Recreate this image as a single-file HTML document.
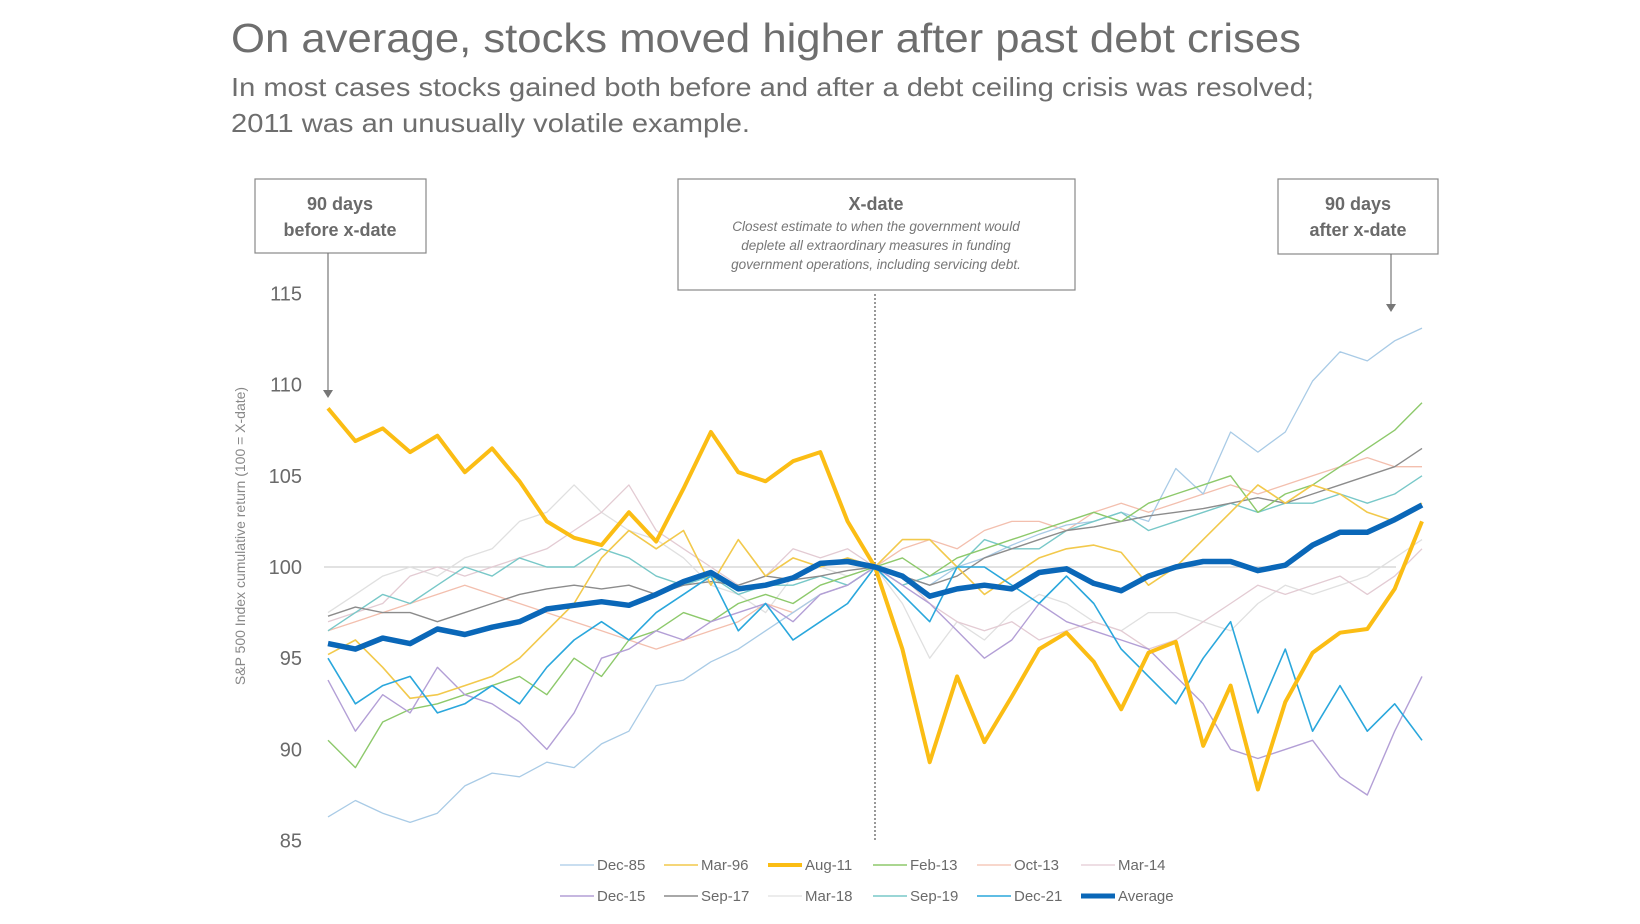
<!DOCTYPE html>
<html><head><meta charset="utf-8"><style>
html,body{margin:0;padding:0;background:#fff;width:1640px;height:924px;overflow:hidden;font-family:"Liberation Sans",sans-serif}
</style></head><body>
<svg id="chart" width="1640" height="924" xmlns="http://www.w3.org/2000/svg" font-family="Liberation Sans, sans-serif">
<text x="231" y="52" font-size="41" fill="#6e6e6e" textLength="1070" lengthAdjust="spacingAndGlyphs">On average, stocks moved higher after past debt crises</text>
<text x="231" y="96" font-size="26" fill="#6e6e6e" textLength="1083" lengthAdjust="spacingAndGlyphs">In most cases stocks gained both before and after a debt ceiling crisis was resolved;</text>
<text x="231" y="132" font-size="26" fill="#6e6e6e" textLength="519" lengthAdjust="spacingAndGlyphs">2011 was an unusually volatile example.</text>
<g>
<rect x="255" y="179" width="171" height="74" fill="#fff" stroke="#888" stroke-width="1.2"/>
<text x="340" y="210" font-size="18" font-weight="bold" fill="#6a6a6a" text-anchor="middle">90 days</text>
<text x="340" y="236" font-size="18" font-weight="bold" fill="#6a6a6a" text-anchor="middle">before x-date</text>
<line x1="328" y1="253" x2="328" y2="392" stroke="#777" stroke-width="1.2"/>
<path d="M323,390 L333,390 L328,398 Z" fill="#777"/>
</g>
<g>
<rect x="678" y="179" width="397" height="111" fill="#fff" stroke="#888" stroke-width="1.2"/>
<text x="876" y="210" font-size="18" font-weight="bold" fill="#6a6a6a" text-anchor="middle">X-date</text>
<text x="876" y="231" font-size="13.5" font-style="italic" fill="#777" text-anchor="middle">Closest estimate to when the government would</text>
<text x="876" y="250" font-size="13.5" font-style="italic" fill="#777" text-anchor="middle">deplete all extraordinary measures in funding</text>
<text x="876" y="269" font-size="13.5" font-style="italic" fill="#777" text-anchor="middle">government operations, including servicing debt.</text>
</g>
<g>
<rect x="1278" y="179" width="160" height="75" fill="#fff" stroke="#888" stroke-width="1.2"/>
<text x="1358" y="210" font-size="18" font-weight="bold" fill="#6a6a6a" text-anchor="middle">90 days</text>
<text x="1358" y="236" font-size="18" font-weight="bold" fill="#6a6a6a" text-anchor="middle">after x-date</text>
<line x1="1391" y1="254" x2="1391" y2="306" stroke="#777" stroke-width="1.2"/>
<path d="M1386,304 L1396,304 L1391,312 Z" fill="#777"/>
</g>
<text transform="translate(245,536) rotate(-90)" font-size="14" fill="#888" text-anchor="middle">S&amp;P 500 Index cumulative return (100 = X-date)</text>
<g id="plot"></g>
<g id="legend"></g>
</svg>
<script>
const NS="http://www.w3.org/2000/svg";
const yTicks=[85,90,95,100,105,110,115];
const seriesNames=["Dec-85","Mar-96","Aug-11","Feb-13","Oct-13","Mar-14","Dec-15","Sep-17","Mar-18","Sep-19","Dec-21","Average"];
const dec85=[86.3,87.2,86.5,86.0,86.5,88.0,88.7,88.5,89.3,89.0,90.3,91.0,93.5,93.8,94.8,95.5,96.5,97.5,98.5,99.0,100,99.5,99.0,100.0,100.5,101.2,101.8,102.3,102.5,103.0,102.5,105.4,104.0,107.4,106.3,107.4,110.2,111.8,111.3,112.4,113.1];
const mar96=[95.2,96.0,94.5,92.8,93.0,93.5,94.0,95.0,96.5,98.0,100.5,102.0,101.0,102.0,99.0,101.5,99.5,100.5,100.0,100.5,100,101.5,101.5,100.0,98.5,99.5,100.5,101.0,101.2,100.8,99.0,100.0,101.5,103.0,104.5,103.5,104.5,104.0,103.0,102.5,103.5];
const aug11=[108.7,106.9,107.6,106.3,107.2,105.2,106.5,104.7,102.5,101.6,101.2,103.0,101.4,104.3,107.4,105.2,104.7,105.8,106.3,102.5,100,95.5,89.3,94.0,90.4,92.9,95.5,96.4,94.8,92.2,95.3,95.9,90.2,93.5,87.8,92.6,95.3,96.4,96.6,98.8,102.5];
const feb13=[90.5,89.0,91.5,92.2,92.5,93.0,93.5,94.0,93.0,95.0,94.0,96.0,96.5,97.5,97.0,98.0,98.5,98.0,99.0,99.5,100,100.5,99.5,100.5,101.0,101.5,102.0,102.5,103.0,102.5,103.5,104.0,104.5,105.0,103.0,104.0,104.5,105.5,106.5,107.5,109.0];
const oct13=[96.5,97.0,97.5,98.0,98.5,99.0,98.5,98.0,97.5,97.0,96.5,96.0,95.5,96.0,96.5,97.0,98.0,97.5,98.5,99.0,100,101.0,101.5,101.0,102.0,102.5,102.5,102.0,103.0,103.5,103.0,103.5,104.0,104.5,104.0,104.5,105.0,105.5,106.0,105.5,105.5];
const mar14=[97.0,97.5,98.0,99.5,100.0,99.5,100.0,100.5,101.0,102.0,103.0,104.5,102.0,101.0,100.0,99.0,99.5,101.0,100.5,101.0,100,99.5,98.0,97.0,96.5,97.0,96.0,96.5,97.0,96.5,95.5,96.0,97.0,98.0,99.0,98.5,99.0,99.5,98.5,99.5,101.0];
const dec15=[93.8,91.0,93.0,92.0,94.5,93.0,92.5,91.5,90.0,92.0,95.0,95.5,96.5,96.0,97.0,97.5,98.0,97.0,98.5,99.0,100,99.0,98.0,96.5,95.0,96.0,98.0,97.0,96.5,96.0,95.5,94.0,92.5,90.0,89.5,90.0,90.5,88.5,87.5,91.0,94.0];
const sep17=[97.3,97.8,97.5,97.5,97.0,97.5,98.0,98.5,98.8,99.0,98.8,99.0,98.5,99.0,99.2,99.0,99.5,99.3,99.5,99.8,100,99.5,99.0,99.5,100.5,101.0,101.5,102.0,102.2,102.5,102.8,103.0,103.2,103.5,103.8,103.5,104.0,104.5,105.0,105.5,106.5];
const mar18=[97.5,98.5,99.5,100.0,99.5,100.5,101.0,102.5,103.0,104.5,103.0,102.0,101.5,100.5,99.0,98.5,97.5,99.5,100.0,99.5,100,98.0,95.0,97.0,96.0,97.5,98.5,98.0,97.0,96.5,97.5,97.5,97.0,96.5,98.0,99.0,98.5,99.0,99.5,100.5,101.5];
const sep19=[96.5,97.5,98.5,98.0,99.0,100.0,99.5,100.5,100.0,100.0,101.0,100.5,99.5,99.0,99.5,98.5,99.0,99.0,99.5,99.0,100,99.0,99.5,100.0,101.5,101.0,101.0,102.0,102.5,103.0,102.0,102.5,103.0,103.5,103.0,103.5,103.5,104.0,103.5,104.0,105.0];
const dec21=[95.0,92.5,93.5,94.0,92.0,92.5,93.5,92.5,94.5,96.0,97.0,96.0,97.5,98.5,99.5,96.5,98.0,96.0,97.0,98.0,100,98.5,97.0,100.0,100.0,99.0,98.0,99.5,98.0,95.5,94.0,92.5,95.0,97.0,92.0,95.5,91.0,93.5,91.0,92.5,90.5];
const average=[95.8,95.5,96.1,95.8,96.6,96.3,96.7,97.0,97.7,97.9,98.1,97.9,98.5,99.2,99.7,98.8,99.0,99.4,100.2,100.3,100,99.5,98.4,98.8,99.0,98.8,99.7,99.9,99.1,98.7,99.5,100.0,100.3,100.3,99.8,100.1,101.2,101.9,101.9,102.6,103.4];

const seriesData=[dec85,mar96,aug11,feb13,oct13,mar14,dec15,sep17,mar18,sep19,dec21,average];
const colors=["#a9cbe6","#f2c94c","#fbbd14","#8dc96b","#f3bfae","#e3cbd3","#b39fd6","#8c8c8c","#e0e0e0","#78c8c8","#2aa7dc","#0a67b8"];
const widths=[1.3,1.6,4,1.4,1.3,1.3,1.4,1.4,1.3,1.4,1.6,5.5];
const drawOrder=[8,5,4,0,9,7,3,6,1,10,2,11];

const X0=328,XMID=875,NPTS=41;
function xPos(i){return X0+(XMID-X0)/((NPTS-1)/2)*i;}
function yPos(v){return 567-(v-100)*18.24;}

const plot=document.getElementById('plot');
function mk(tag,attrs){const e=document.createElementNS(NS,tag);for(const k in attrs)e.setAttribute(k,attrs[k]);return e;}

yTicks.forEach(t=>{
  const tx=mk('text',{x:302,y:yPos(t)+7,'font-size':20,fill:'#6a6a6a','text-anchor':'end'});
  
  
  tx.textContent=t;plot.appendChild(tx);
});
const base=mk('line',{x1:324,x2:1396,y1:yPos(100),y2:yPos(100),stroke:'#d0d0d0','stroke-width':1.2});


plot.appendChild(base);
const xd=mk('line',{x1:XMID,x2:XMID,y1:294,y2:841,stroke:'#555','stroke-width':1.2,'stroke-dasharray':'2,2'});


plot.appendChild(xd);

drawOrder.forEach(s=>{
  const d=seriesData[s].map((v,i)=>(i?'L':'M')+xPos(i).toFixed(1)+','+yPos(v).toFixed(1)).join(' ');
  const p=mk('path',{d:d,fill:'none',stroke:colors[s],'stroke-width':widths[s],'stroke-linejoin':'round'});
  
  
  plot.appendChild(p);
});

const leg=document.getElementById('legend');
const legX=[560,664,768,873,977,1081];
seriesNames.forEach((n,k)=>{
  const r=Math.floor(k/6),c=k%6,y=r?896:865,x=legX[c];
  const g=mk('g',{});
  
  
  g.appendChild(mk('line',{x1:x,x2:x+34,y1:y,y2:y,stroke:colors[k],'stroke-width':Math.min(widths[k],5)}));
  const t=mk('text',{x:x+37,y:y+5,'font-size':15,fill:'#6a6a6a'});
  t.textContent=n;g.appendChild(t);leg.appendChild(g);
});
</script>
</body></html>
